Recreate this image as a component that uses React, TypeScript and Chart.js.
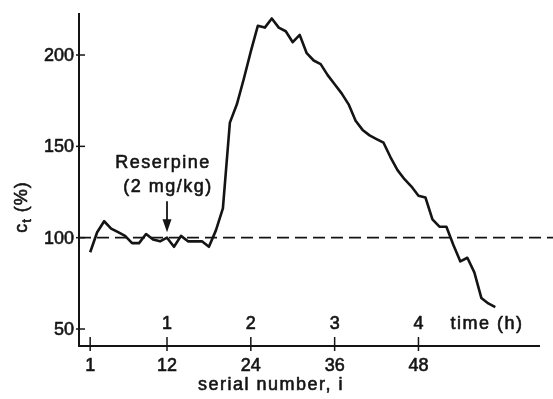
import React, { useEffect, useRef } from "react";
import { Chart, registerables } from "chart.js";

Chart.register(...registerables);

// ---- data ----
const serialIndex = [
  1, 2, 3, 4, 5, 6, 7, 8, 9, 10, 11, 12, 13, 14, 15, 16, 17, 18, 19, 20,
  21, 22, 23, 24, 25, 26, 27, 28, 29, 30, 31, 32, 33, 34, 35, 36, 37, 38, 39, 40,
  41, 42, 43, 44, 45, 46, 47, 48, 49, 50, 51, 52, 53, 54, 55, 56, 57, 58, 59,
];
const ctValues = [
  92, 103, 109, 105, 103, 101, 97, 97, 102, 99, 98, 100, 95, 101, 98, 98, 98, 95, 104, 116,
  163, 173, 187, 202, 216, 215, 220, 215, 213, 207, 211, 201, 197, 195, 189, 184, 179, 173, 164, 159,
  156, 154, 152, 144, 137, 132, 128, 123, 122, 110, 106, 106, 96, 87, 89, 81, 67, 64, 62,
];
const xTickValues = [1, 12, 24, 36, 48];
const yTickValues = [50, 100, 150, 200];
const timeHourLabels = ["1", "2", "3", "4"];
const timeHourPositions = [12, 24, 36, 48];
const timeAxisLabel = "time (h)";
const timeLabelAt = { x: 52.6, y: 52.5 };
const referenceLevel = 100;
const referenceSpan = [-0.6, 67.5];
const annotationLines = ["Reserpine", "(2 mg/kg)"];
const annotationAt = 12;
const annotationTextValues = [141, 128];
const arrowFromTo = [120, 103];
const xAxisTitle = "serial number, i";

const FONT = '"Liberation Sans", Arial, Helvetica, sans-serif';
const INK = "#141414";

function setSpacing(ctx: any, px: number) {
  try {
    ctx.letterSpacing = px + "px";
  } catch (e) {}
}

function heavyText(ctx: any, s: string, x: number, y: number) {
  ctx.fillText(s, x, y);
  ctx.strokeText(s, x, y);
}

const decorPlugin = {
  id: "decor",
  afterDatasetsDraw(chart: any) {
    const ctx = chart.ctx;
    const xs = chart.scales.x;
    const ys = chart.scales.y;
    const area = chart.chartArea;
    ctx.save();
    ctx.strokeStyle = INK;
    ctx.fillStyle = INK;
    ctx.lineWidth = 2;
    ctx.lineCap = "butt";
    ctx.setLineDash([]);

    // axes
    ctx.beginPath();
    ctx.moveTo(area.left, area.top);
    ctx.lineTo(area.left, area.bottom);
    ctx.lineTo(area.right, area.bottom);
    ctx.stroke();

    // y ticks
    ctx.lineWidth = 1.5;
    yTickValues.forEach((v) => {
      const py = ys.getPixelForValue(v);
      ctx.beginPath();
      ctx.moveTo(area.left - 3, py);
      ctx.lineTo(area.left + 6, py);
      ctx.stroke();
    });
    // x ticks
    xTickValues.forEach((v) => {
      const px = xs.getPixelForValue(v);
      ctx.beginPath();
      ctx.moveTo(px, area.bottom - 9);
      ctx.lineTo(px, area.bottom + 5);
      ctx.stroke();
    });

    ctx.lineWidth = 0.6;
    ctx.lineJoin = "round";

    // y tick labels
    setSpacing(ctx, 0);
    ctx.font = `18px ${FONT}`;
    ctx.textAlign = "right";
    ctx.textBaseline = "middle";
    yTickValues.forEach((v) => {
      heavyText(ctx, String(v), area.left - 5, ys.getPixelForValue(v) + 1);
    });

    // x tick labels
    ctx.textAlign = "center";
    xTickValues.forEach((v) => {
      heavyText(ctx, String(v), xs.getPixelForValue(v), area.bottom + 20);
    });

    // time (h) labels
    timeHourLabels.forEach((t, i) => {
      heavyText(ctx, t, xs.getPixelForValue(timeHourPositions[i]), ys.getPixelForValue(timeLabelAt.y));
    });
    setSpacing(ctx, 1.5);
    ctx.textAlign = "left";
    heavyText(ctx, timeAxisLabel, xs.getPixelForValue(timeLabelAt.x), ys.getPixelForValue(timeLabelAt.y));

    // x axis title
    ctx.textAlign = "center";
    heavyText(ctx, xAxisTitle, 271, area.bottom + 39);

    // annotation
    const ax = xs.getPixelForValue(annotationAt);
    heavyText(ctx, annotationLines[0], ax - 4, ys.getPixelForValue(annotationTextValues[0]));
    heavyText(ctx, annotationLines[1], ax + 1, ys.getPixelForValue(annotationTextValues[1]));
    const yFrom = ys.getPixelForValue(arrowFromTo[0]);
    const yTo = ys.getPixelForValue(arrowFromTo[1]);
    ctx.lineWidth = 1.8;
    ctx.beginPath();
    ctx.moveTo(ax, yFrom);
    ctx.lineTo(ax, yTo - 10);
    ctx.stroke();
    ctx.beginPath();
    ctx.moveTo(ax - 4.5, yTo - 13);
    ctx.lineTo(ax + 4.5, yTo - 13);
    ctx.lineTo(ax, yTo);
    ctx.closePath();
    ctx.fill();

    // y axis title: c_t (%)
    ctx.lineWidth = 0.6;
    setSpacing(ctx, 1);
    ctx.translate(22, 207);
    ctx.rotate(-Math.PI / 2);
    ctx.textBaseline = "middle";
    ctx.textAlign = "left";
    const big = `18px ${FONT}`;
    const small = `13px ${FONT}`;
    ctx.font = big;
    const wC = ctx.measureText("c").width;
    const wRest = ctx.measureText(" (%)").width;
    ctx.font = small;
    const wT = ctx.measureText("t").width;
    const total = wC + wT + wRest;
    let cx = -total / 2;
    ctx.font = big;
    heavyText(ctx, "c", cx, 0);
    cx += wC;
    ctx.font = small;
    heavyText(ctx, "t", cx, 5);
    cx += wT;
    ctx.font = big;
    heavyText(ctx, " (%)", cx, 0);

    ctx.restore();
  },
};

export default function App() {
  const ref = useRef<HTMLCanvasElement | null>(null);
  useEffect(() => {
    if (!ref.current) return;
    const chart = new Chart(ref.current, {
      type: "line",
      data: {
        datasets: [
          {
            label: "ct",
            data: serialIndex.map((x, i) => ({ x, y: ctValues[i] })),
            borderColor: INK,
            borderWidth: 2.6,
            pointRadius: 0,
            tension: 0,
            fill: false,
            borderJoinStyle: "round",
          },
          {
            label: "reference",
            data: referenceSpan.map((x) => ({ x, y: referenceLevel })),
            borderColor: INK,
            borderWidth: 1.8,
            borderDash: [12, 6],
            pointRadius: 0,
            fill: false,
            clip: false,
          },
        ],
      },
      options: {
        responsive: false,
        animation: false,
        events: [],
        layout: { padding: { left: 79, right: 13, top: 13, bottom: 53 } },
        plugins: { legend: { display: false }, tooltip: { enabled: false } },
        scales: {
          x: { type: "linear", min: -0.6, max: 65.4, display: false },
          y: { type: "linear", min: 40.7, max: 223, display: false },
        },
      },
      plugins: [decorPlugin],
    } as any);
    return () => chart.destroy();
  }, []);
  return (
    <div style={{ position: "fixed", left: 0, top: 0, width: 553, height: 399, background: "#fff" }}>
      <canvas ref={ref} width={553} height={399} style={{ display: "block" }} />
    </div>
  );
}
